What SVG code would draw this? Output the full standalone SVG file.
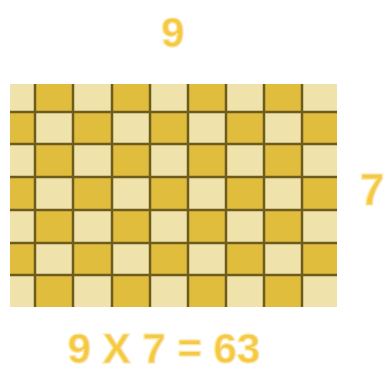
<svg xmlns="http://www.w3.org/2000/svg" width="386" height="372" viewBox="0 0 386 372">
<style>
.l{fill:#EFE2AA}
.d{fill:#E1BD3E}
.g{stroke:#6E5C1E;stroke-width:2.5;fill:none}
.t{font-family:"Liberation Sans",Arial,sans-serif;font-weight:bold;fill:#F6C945;stroke:#FCE6A4;stroke-width:1.2}
</style>
<rect width="386" height="372" fill="#ffffff"/>
<g id="grid">
<rect x="10" y="84" width="327" height="223" class="l"/>
<g class="d">
<rect x="35" y="84" width="38" height="28"/><rect x="112" y="84" width="38" height="28"/><rect x="188" y="84" width="38" height="28"/><rect x="264" y="84" width="38" height="28"/>
<rect x="10" y="112" width="25" height="32"/><rect x="73" y="112" width="39" height="32"/><rect x="150" y="112" width="38" height="32"/><rect x="226" y="112" width="38" height="32"/><rect x="302" y="112" width="35" height="32"/>
<rect x="35" y="144" width="38" height="33"/><rect x="112" y="144" width="38" height="33"/><rect x="188" y="144" width="38" height="33"/><rect x="264" y="144" width="38" height="33"/>
<rect x="10" y="177" width="25" height="33"/><rect x="73" y="177" width="39" height="33"/><rect x="150" y="177" width="38" height="33"/><rect x="226" y="177" width="38" height="33"/><rect x="302" y="177" width="35" height="33"/>
<rect x="35" y="210" width="38" height="33"/><rect x="112" y="210" width="38" height="33"/><rect x="188" y="210" width="38" height="33"/><rect x="264" y="210" width="38" height="33"/>
<rect x="10" y="243" width="25" height="32"/><rect x="73" y="243" width="39" height="32"/><rect x="150" y="243" width="38" height="32"/><rect x="226" y="243" width="38" height="32"/><rect x="302" y="243" width="35" height="32"/>
<rect x="35" y="275" width="38" height="32"/><rect x="112" y="275" width="38" height="32"/><rect x="188" y="275" width="38" height="32"/><rect x="264" y="275" width="38" height="32"/>
</g>
<path class="g" d="M35 84V307M73 84V307M112 84V307M150 84V307M188 84V307M226 84V307M264 84V307M302 84V307M10 112H337M10 144H337M10 177H337M10 210H337M10 243H337M10 275H337"/>
</g>
<g id="labels">
<text class="t" x="173" y="47" font-size="42" text-anchor="middle">9</text>
<text class="t" x="360" y="205" font-size="44">7</text>
<text class="t" x="164" y="363" font-size="42" text-anchor="middle">9 X 7 = 63</text>
</g>
</svg>
